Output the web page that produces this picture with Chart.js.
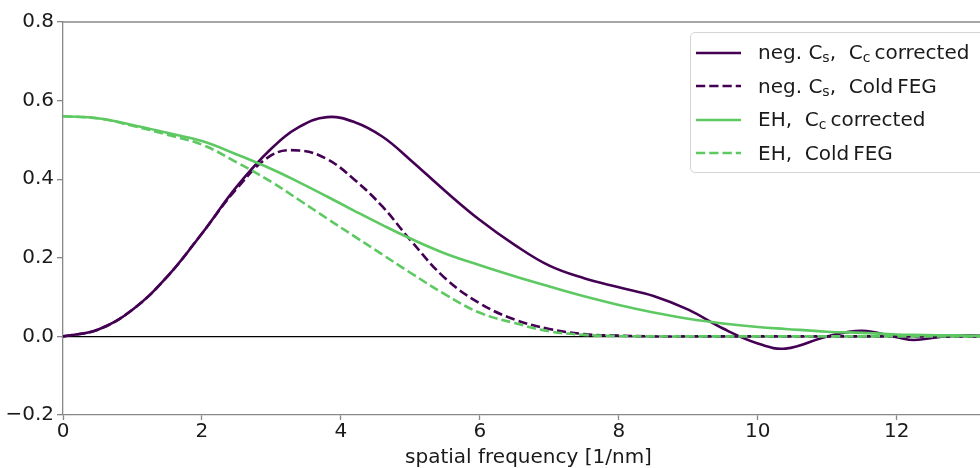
<!DOCTYPE html>
<html lang="en">
<head>
  <meta charset="UTF-8" />
  <title>Spatial frequency curves</title>
  <style>
    body {
      margin: 0;
      background: #fff;
      font-family: "DejaVu Sans", sans-serif;
    }

    .wrap {
      position: relative;
      width: 980px;
      height: 468px;
      overflow: hidden;
    }

    .legend {
      position: absolute;
      left: 690px;
      top: 32px;
      width: 300px;
      height: 141px;
      box-sizing: border-box;
      border: 1.3px solid #d4d4d4;
      border-radius: 5px;
      background: rgba(255, 255, 255, 0.85);
      padding-top: 3px;
      color: #1a1a1a;
      font-size: 20px;
    }

    .row {
      display: flex;
      align-items: center;
      height: 33.5px;
      white-space: nowrap;
    }

    .row svg {
      margin-left: 5px;
      margin-right: 17px;
      flex: none;
    }

    .row sub {
      font-size: 14px;
      vertical-align: -3px;
    }
  </style>
</head>
<body>
  <div class="wrap">
    <canvas id="chart" width="994" height="468"></canvas>
    <div class="legend" id="legend"></div>
  </div>

  <script src="https://cdn.jsdelivr.net/npm/chart.js"></script>
  <script>
    // spatial frequency [1/nm]
    const freq = [0, 0.5, 1, 1.5, 2, 2.5, 3, 3.4, 3.8, 4.2, 4.6, 5, 5.5, 6, 6.5, 7, 7.5, 8, 8.5, 9, 9.5, 10, 10.4, 11, 11.5, 12, 12.25, 12.6, 13, 13.4];

    const negCsCc = [0, 0.017, 0.068, 0.152, 0.262, 0.381, 0.478, 0.533, 0.558, 0.545, 0.508, 0.449, 0.37, 0.296, 0.233, 0.18, 0.148, 0.125, 0.103, 0.068, 0.02, -0.018, -0.031, 0.0, 0.014, -0.002, -0.009, -0.002, 0.003, 0.0];
    const negCsCold = [0, 0.017, 0.068, 0.152, 0.262, 0.376, 0.461, 0.473, 0.451, 0.398, 0.33, 0.245, 0.148, 0.084, 0.043, 0.019, 0.006, 0.002, 0, 0, 0, 0, 0, 0, 0, 0, 0, 0, 0, 0];
    const ehCc = [0.56, 0.555, 0.538, 0.518, 0.497, 0.463, 0.426, 0.392, 0.356, 0.319, 0.283, 0.249, 0.211, 0.181, 0.153, 0.127, 0.102, 0.08, 0.061, 0.045, 0.033, 0.024, 0.019, 0.012, 0.009, 0.005, 0.004, 0.003, 0.002, 0.001];
    const ehCold = [0.56, 0.555, 0.536, 0.513, 0.488, 0.443, 0.393, 0.347, 0.3, 0.254, 0.208, 0.162, 0.107, 0.06, 0.034, 0.013, 0.004, 0.001, 0, 0, 0, 0, 0, 0, 0, 0, 0, 0, 0, 0];

    const seriesLabels = ["neg. Cs, Cc corrected", "neg. Cs, Cold FEG", "EH, Cc corrected", "EH, Cold FEG"];
    const legendHtml = [
      "neg. C<sub>s</sub>,&nbsp; C<sub>c</sub>&thinsp;corrected",
      "neg. C<sub>s</sub>,&nbsp; Cold&thinsp;FEG",
      "EH,&nbsp; C<sub>c</sub>&thinsp;corrected",
      "EH,&nbsp; Cold&thinsp;FEG"
    ];
    const yTicks = [-0.2, 0, 0.2, 0.4, 0.6, 0.8];
    const xTicks = [0, 2, 4, 6, 8, 10, 12];

    const purple = "#440154";
    const green = "#5ec962";
    const dash = [9.25, 4];

    const toPoints = values => freq.map((f, i) => ({ x: f, y: values[i] }));

    const series = [
      { values: negCsCc, color: purple, dashed: false },
      { values: negCsCold, color: purple, dashed: true },
      { values: ehCc, color: green, dashed: false },
      { values: ehCold, color: green, dashed: true }
    ];

    const datasets = series.map((s, i) => ({
      label: seriesLabels[i],
      data: toPoints(s.values),
      borderColor: s.color,
      borderWidth: 2.6,
      borderDash: s.dashed ? dash : [],
      pointRadius: 0,
      fill: false,
      tension: 0.4,
      order: series.length - i
    }));

    // top spine
    const frame = {
      id: "frame",
      afterDraw(chart) {
        const { ctx, chartArea } = chart;
        ctx.save();
        ctx.strokeStyle = "#888";
        ctx.lineWidth = 1.3;
        ctx.beginPath();
        ctx.moveTo(chartArea.left, chartArea.top);
        ctx.lineTo(chartArea.right, chartArea.top);
        ctx.stroke();
        ctx.restore();
      }
    };

    const tickFont = { family: "DejaVu Sans", size: 20 };

    new Chart(document.getElementById("chart"), {
      type: "line",
      data: { datasets },
      plugins: [frame],
      options: {
        responsive: false,
        animation: false,
        layout: { padding: { top: 22, right: 0, bottom: 0, left: 0 } },
        plugins: { legend: { display: false }, tooltip: { enabled: false } },
        scales: {
          x: {
            type: "linear",
            min: 0,
            max: 13.4,
            afterFit: s => { s.height = 53; },
            afterBuildTicks: s => { s.ticks = xTicks.map(v => ({ value: v })); },
            ticks: { font: tickFont, color: "#1a1a1a", padding: 0, maxRotation: 0 },
            grid: { drawOnChartArea: false, tickLength: 5, tickColor: "#888", tickWidth: 1.3 },
            border: { color: "#888", width: 1.3 },
            title: {
              display: true,
              text: "spatial frequency [1/nm]",
              font: { family: "DejaVu Sans", size: 20, lineHeight: 1.0 },
              color: "#1a1a1a",
              padding: { top: 0, bottom: 0 }
            }
          },
          y: {
            min: -0.2,
            max: 0.8,
            afterFit: s => { s.width = 63; },
            afterBuildTicks: s => { s.ticks = yTicks.map(v => ({ value: v })); },
            ticks: {
              font: tickFont,
              color: "#1a1a1a",
              padding: 3,
              callback: v => (v < 0 ? "\u2212" : "") + Math.abs(v).toFixed(1)
            },
            grid: {
              drawOnChartArea: true,
              color: c => (c.tick && Math.abs(c.tick.value) < 1e-9 ? "#000" : "rgba(0,0,0,0)"),
              lineWidth: 1.3,
              tickLength: 6,
              tickColor: "#888",
              tickWidth: 1.3
            },
            border: { color: "#888", width: 1.3 }
          }
        }
      }
    });

    // legend with subscripts
    const legend = document.getElementById("legend");
    series.forEach((s, i) => {
      const row = document.createElement("div");
      row.className = "row";
      row.innerHTML =
        '<svg width="45" height="10"><line x1="0" y1="5" x2="45" y2="5" stroke="' + s.color +
        '" stroke-width="2.6"' + (s.dashed ? ' stroke-dasharray="9.25 4"' : "") + "/></svg>" +
        "<span>" + legendHtml[i] + "</span>";
      legend.appendChild(row);
    });
  </script>
</body>
</html>
